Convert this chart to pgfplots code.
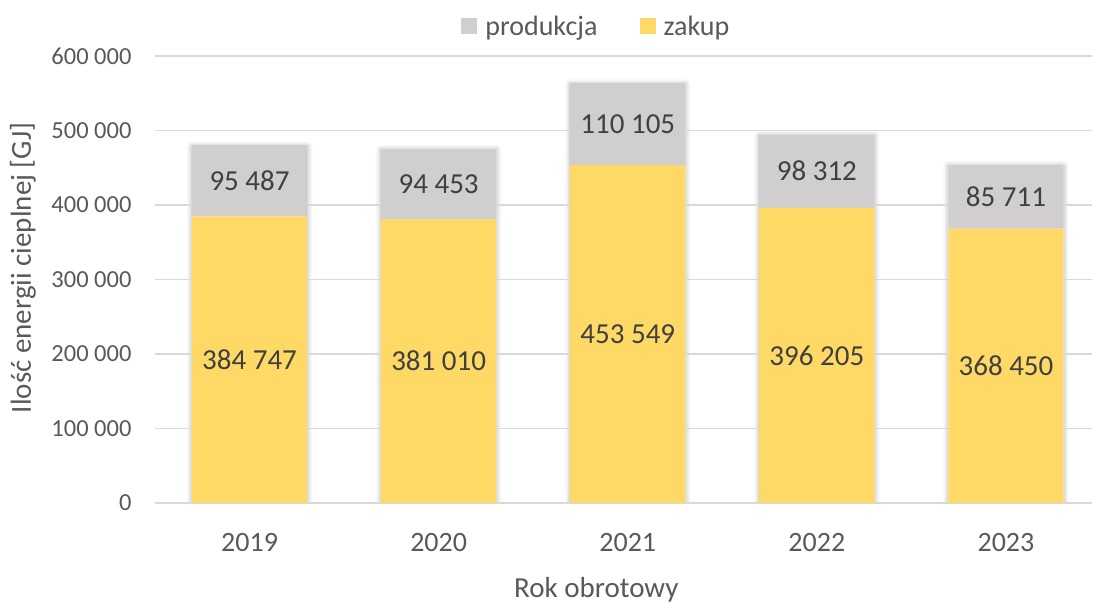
\documentclass[border=0pt]{standalone}
\usepackage{pgfplots}
\pgfplotsset{compat=1.18}
\usepackage{pgfplotstable}
\usetikzlibrary{shadows.blur}
\usepackage{fontspec}
\setmainfont{Carlito}
\definecolor{txt}{HTML}{595959}
\definecolor{lbl}{HTML}{404040}
\definecolor{zak}{HTML}{FFD966}
\definecolor{prd}{HTML}{D0CECE}
\definecolor{grd}{HTML}{D9D9D9}

\pgfplotstableread{
x zakup prod
0 384747 95487
1 381010 94453
2 453549 110105
3 396205 98312
4 368450 85711
}\data

\begin{document}
\begin{tikzpicture}
\path[use as bounding box] (-155pt,-101pt) rectangle (938pt,503pt);
\pgfplotsset{common/.style={
  scale only axis, width=937pt, height=447pt,
  xmin=-0.5, xmax=4.455, ymin=0, ymax=600000,
  at={(0pt,0pt)}, anchor=south west}}
% shadows
\begin{axis}[common, hide axis, ybar, bar width=0.61]
\addplot[fill=white, draw=none, blur shadow={shadow xshift=0pt, shadow yshift=-1pt, shadow blur radius=5pt, shadow opacity=35}]
  table[x=x, y expr=\thisrow{zakup}+\thisrow{prod}] {\data};
\end{axis}
\begin{axis}[common,
  ybar stacked, bar width=0.61,
  /pgf/number format/assume math mode=true,
  scaled y ticks=false,
  ytick={0,100000,...,600000},
  yticklabel style={font=\fontsize{24.5}{26}\selectfont, text=txt, xshift=-20pt,
    /pgf/number format/.cd, fixed, precision=0, 1000 sep={\ }},
  xtick={0,1,2,3,4},
  xticklabels={2019,2020,2021,2022,2023},
  xticklabel style={font=\fontsize{28}{30}\selectfont, text=txt, yshift=-27pt},
  axis x line*=bottom, axis y line*=left,
  x axis line style={draw=grd, line width=1.2pt},
  y axis line style={draw=none},
  tick style={draw=none},
  ymajorgrids, grid style={draw=grd, line width=1.2pt},
  xlabel={Rok obrotowy},
  ylabel={Ilość energii cieplnej [GJ]},
  every axis x label/.style={at={(axis description cs:0.471,-0.195)}, anchor=center,
    font=\fontsize{29}{31}\selectfont, text=txt},
  every axis y label/.style={at={(axis description cs:-0.141,0.526)}, anchor=center, rotate=90,
    font=\fontsize{29}{31}\selectfont, text=txt},
  reverse legend,
  legend style={draw=none, fill=none, at={(axis description cs:0.471,1.066)}, anchor=center,
    legend columns=-1, font=\fontsize{28}{30}\selectfont, text=txt,
    /tikz/every even column/.append style={column sep=40pt},
    /tikz/every odd column/.append style={column sep=6pt}},
  legend image code/.code={\fill[#1] (0pt,-8pt) rectangle (16pt,8pt);},
]
\addplot[fill=zak, draw=none] table[x=x, y=zakup] {\data};
\addlegendentry{zakup}
\addplot[fill=prd, draw=none] table[x=x, y=prod] {\data};
\addlegendentry{produkcja}
\end{axis}
\begin{axis}[common, hide axis,
  nodes near coords={\pgfmathprintnumber[fixed,precision=0,1000 sep={\ },assume math mode=true]{\pgfplotspointmeta}},
  every node near coord/.append style={anchor=center, font=\fontsize{29}{31}\selectfont, text=lbl},
  point meta=explicit]
\addplot[draw=none, mark=none] table[x=x, y expr=\thisrow{zakup}/2, meta=zakup] {\data};
\addplot[draw=none, mark=none] table[x=x, y expr=\thisrow{zakup}+\thisrow{prod}/2, meta=prod] {\data};
\end{axis}
\end{tikzpicture}
\end{document}
